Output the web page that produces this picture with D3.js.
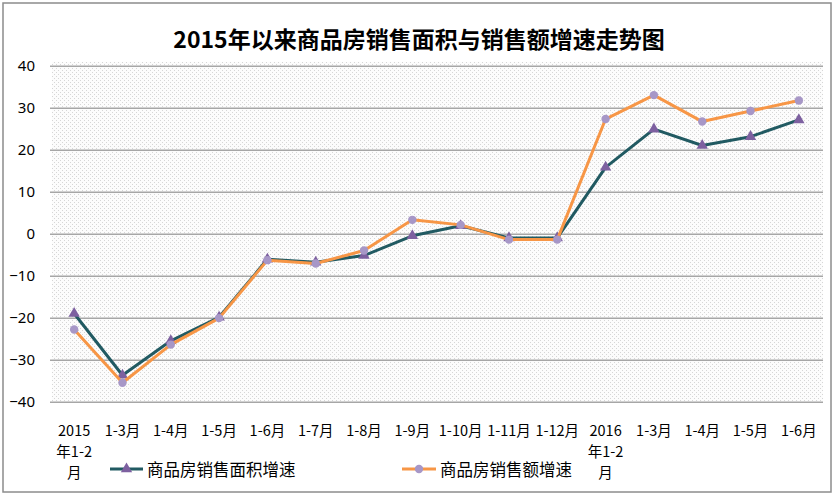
<!DOCTYPE html>
<html><head><meta charset="utf-8">
<script src="https://cdn.jsdelivr.net/npm/d3@7/dist/d3.min.js"></script>
<style>
body{margin:0;background:#fff;}
text{font-family:"Noto Sans CJK SC","Noto Sans",sans-serif;fill:#000;}
</style></head>
<body><svg id="c" width="836" height="497"></svg>
<script>
const title = "2015年以来商品房销售面积与销售额增速走势图";
const categories = ["2015年1-2月","1-3月","1-4月","1-5月","1-6月","1-7月","1-8月","1-9月","1-10月","1-11月","1-12月","2016年1-2月","1-3月","1-4月","1-5月","1-6月"];
const areaName = "商品房销售面积增速";
const salesName = "商品房销售额增速";
const areaGrowth  = [-19.0,-33.7,-25.5,-19.9,-6.1,-6.8,-5.2,-0.5,1.9,-1.0,-1.0,15.8,24.9,21.0,23.1,27.1];
const salesGrowth = [-22.8,-35.5,-26.4,-20.1,-6.3,-7.1,-4.0,3.3,2.1,-1.4,-1.4,27.3,33.0,26.7,29.2,31.7];
const yTicks = [-40,-30,-20,-10,0,10,20,30,40];

const svg = d3.select("#c");
const L = 50, R = 823, T = 65.7, B = 401.7;

// outer border
svg.append("rect").attr("x",3).attr("y",3).attr("width",828).attr("height",489)
  .attr("fill","#fff").attr("stroke","#8c8c8c").attr("stroke-width",1.5);

// dotted pattern
const defs = svg.append("defs");
const pat = defs.append("pattern").attr("id","dots").attr("width",4).attr("height",4).attr("patternUnits","userSpaceOnUse");
pat.append("rect").attr("width",4).attr("height",4).attr("fill","#fcfcfc");
pat.append("rect").attr("x",0).attr("y",0).attr("width",1).attr("height",1).attr("fill","#d6d6d6");
pat.append("rect").attr("x",2).attr("y",2).attr("width",1).attr("height",1).attr("fill","#d6d6d6");

svg.append("rect").attr("x",L+2).attr("y",T-4).attr("width",R-L-2).attr("height",B-T+4).attr("fill","url(#dots)");

const x = d3.scaleBand().domain(d3.range(categories.length)).range([L,R]);
const y = d3.scaleLinear().domain([-40,40]).range([B,T]);
const cx = i => x(i) + x.bandwidth()/2;

// title
svg.append("text").attr("x",419).attr("y",38).attr("text-anchor","middle").attr("dominant-baseline","central")
  .style("font-size","23px").style("font-weight","bold").text(title);

// y axis with gridlines
const ya = svg.append("g").attr("transform",`translate(${L},0)`)
  .call(d3.axisLeft(y).tickValues(yTicks).tickSize(-(R-L)).tickPadding(15).tickFormat(d3.format("d")));
ya.select(".domain").remove();
ya.selectAll(".tick line").attr("stroke","#a6a6a6").attr("stroke-width",1.6);
ya.selectAll(".tick text").style("font-size","15px").attr("fill","#000").style("font-family","'Noto Sans',sans-serif");

// x axis
const xa = svg.append("g").attr("transform",`translate(0,${B})`)
  .call(d3.axisBottom(x).tickSize(0).tickFormat(i => categories[i]));
xa.select(".domain").remove();
xa.selectAll(".tick text").each(function(i){
  const t = d3.select(this);
  const lab = categories[i];
  const m = lab.match(/^(\d{4})(年.*)(月)$/);
  const lines = m ? [m[1], m[2], m[3]] : [lab];
  t.text(null).attr("y",0).attr("dy",null).style("font-size","14.5px").attr("fill","#000");
  lines.forEach((ln,k) => {
    t.append("tspan").attr("x",0).attr("y",27.5 + k*21).attr("dominant-baseline","central").text(ln);
  });
});

// series
const line = d3.line().x((d,i)=>cx(i)).y(d=>y(d));
const tri = d3.symbol().type(d3.symbolTriangle).size(56);

svg.append("path").datum(areaGrowth).attr("d",line).attr("fill","none")
  .attr("stroke","#215a62").attr("stroke-width",3).attr("stroke-linejoin","round");
svg.append("g").selectAll("path").data(areaGrowth).join("path")
  .attr("d",tri).attr("transform",(d,i)=>`translate(${cx(i)},${y(d)})`).attr("fill","#7d60a0");

svg.append("path").datum(salesGrowth).attr("d",line).attr("fill","none")
  .attr("stroke","#f79646").attr("stroke-width",3).attr("stroke-linejoin","round");
svg.append("g").selectAll("circle").data(salesGrowth).join("circle")
  .attr("cx",(d,i)=>cx(i)).attr("cy",d=>y(d)).attr("r",4.2).attr("fill","#a797c7");

// legend
const ly = 469;
const lg1 = svg.append("g");
lg1.append("line").attr("x1",110).attr("x2",143).attr("y1",ly).attr("y2",ly).attr("stroke","#215a62").attr("stroke-width",3);
lg1.append("path").attr("d",tri).attr("transform",`translate(126.5,${ly})`).attr("fill","#7d60a0");
lg1.append("text").attr("x",147).attr("y",ly).attr("dominant-baseline","central").style("font-size","16.5px").text(areaName);

const lg2 = svg.append("g");
lg2.append("line").attr("x1",402).attr("x2",436).attr("y1",ly).attr("y2",ly).attr("stroke","#f79646").attr("stroke-width",3);
lg2.append("circle").attr("cx",419).attr("cy",ly).attr("r",4.2).attr("fill","#a797c7");
lg2.append("text").attr("x",440).attr("y",ly).attr("dominant-baseline","central").style("font-size","16.5px").text(salesName);
</script></body></html>
